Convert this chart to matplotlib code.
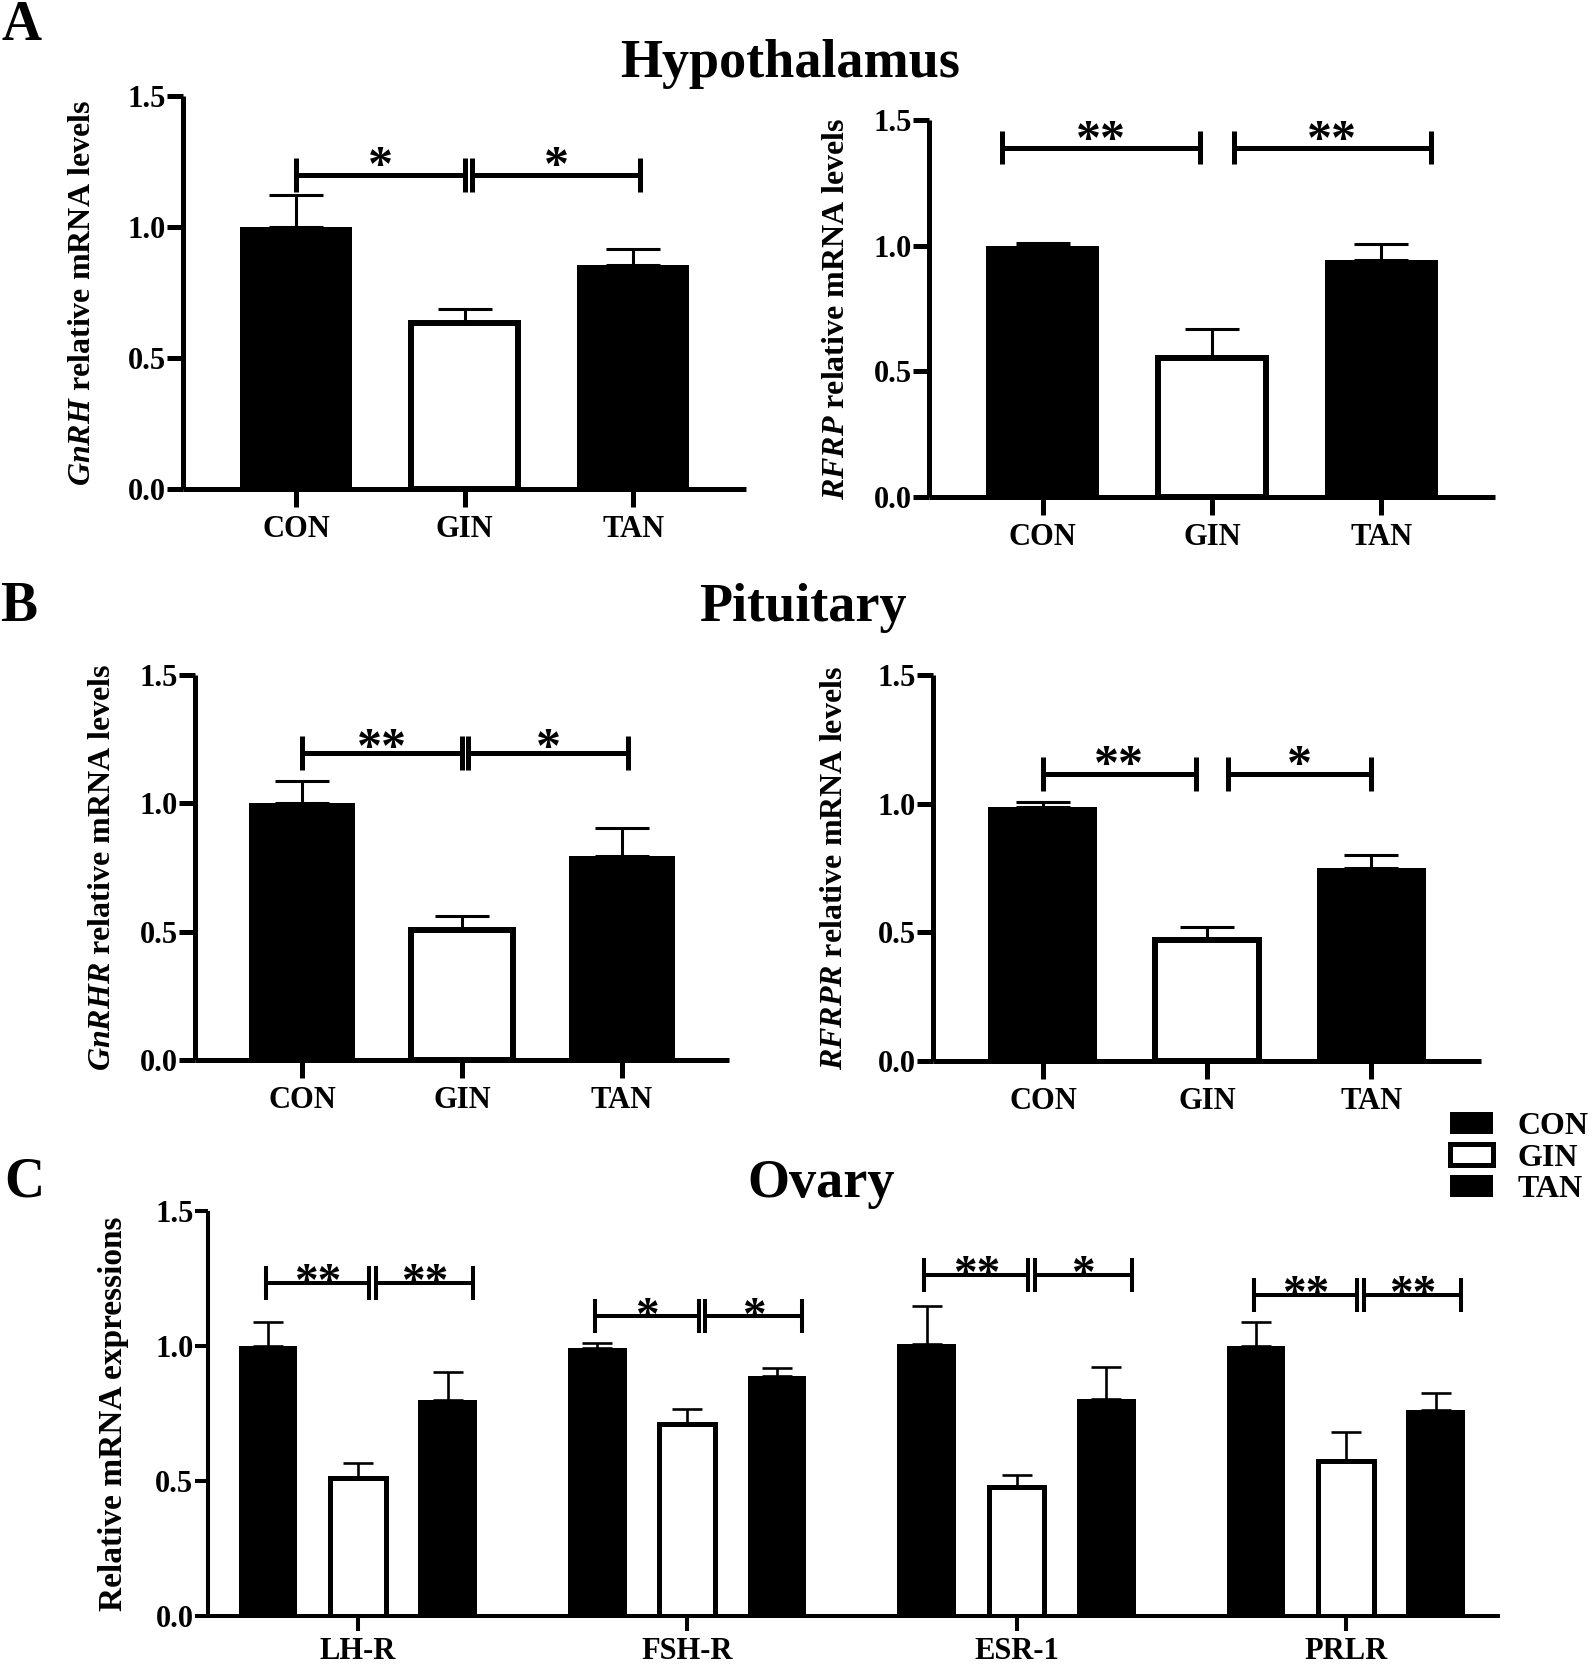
"""Relative mRNA levels in hypothalamus, pituitary and ovary."""

import numpy as np
import matplotlib

matplotlib.use("Agg")
import matplotlib.pyplot as plt

plt.rcParams.update(
    {
        "font.family": "Liberation Serif",
        "font.weight": "bold",
        "mathtext.fontset": "custom",
        "mathtext.rm": "Liberation Serif:bold",
        "mathtext.it": "Liberation Serif:italic:bold",
        "mathtext.bf": "Liberation Serif:bold",
        "axes.labelweight": "bold",
        "xtick.labelsize": 22,
        "ytick.labelsize": 22,
    }
)

groups = ["CON", "GIN", "TAN"]
bar_colors = ["black", "white", "black"]

# hypothalamus
gnrh_mean = [1.00, 0.634, 0.855]
gnrh_sem = [0.124, 0.053, 0.061]
gnrh_sig = ["*", "*"]
rfrp_mean = [1.00, 0.553, 0.943]
rfrp_sem = [0.010, 0.117, 0.064]
rfrp_sig = ["**", "**"]

# pituitary
gnrhr_mean = [1.00, 0.506, 0.795]
gnrhr_sem = [0.087, 0.055, 0.109]
gnrhr_sig = ["**", "*"]
rfrpr_mean = [0.987, 0.470, 0.750]
rfrpr_sem = [0.019, 0.050, 0.050]
rfrpr_sig = ["**", "*"]

# ovary
ovary_genes = ["LH-R", "FSH-R", "ESR-1", "PRLR"]
ovary_con_mean = [1.00, 0.993, 1.007, 1.00]
ovary_con_sem = [0.089, 0.018, 0.141, 0.089]
ovary_gin_mean = [0.511, 0.711, 0.478, 0.575]
ovary_gin_sem = [0.056, 0.056, 0.044, 0.106]
ovary_tan_mean = [0.800, 0.889, 0.804, 0.764]
ovary_tan_sem = [0.104, 0.029, 0.120, 0.063]
ovary_sig_left = ["**", "*", "**", "**"]
ovary_sig_right = ["**", "*", "*", "**"]
ovary_sig_height = [1.233, 1.110, 1.263, 1.189]

W, H = 1595, 1667
fig = plt.figure(figsize=(W / 100, H / 100), dpi=100)


def px_rect(left, bottom, width, height):
    """Pixel box -> figure fraction rect."""
    return [left / W, 1 - bottom / H, width / W, height / H]


def style_axes(ax, lw, xtick_len, ytick_len, xpad):
    """GraphPad like axes."""
    for side in ("top", "right"):
        ax.spines[side].set_visible(False)
    for side in ("left", "bottom"):
        ax.spines[side].set_linewidth(lw)
        ax.spines[side].set_capstyle("butt")
    ax.set_ylim(0, 1.5)
    ax.set_yticks([0, 0.5, 1.0, 1.5])
    ax.set_yticklabels(["0.0", "0.5", "1.0", "1.5"])
    ax.tick_params(axis="y", direction="out", length=ytick_len, width=lw, pad=1)
    ax.tick_params(axis="x", direction="out", length=xtick_len, width=lw, pad=xpad)
    for lab in ax.get_xticklabels() + ax.get_yticklabels():
        lab.set_fontweight("bold")


def bracket(ax, x0, x1, y, label, lw, star_dy, end_h=0.065, fs=36):
    ax.plot([x0, x1], [y, y], color="k", lw=lw, solid_capstyle="butt", zorder=4)
    for xe in (x0, x1):
        ax.plot([xe, xe], [y - end_h, y + end_h], color="k", lw=lw,
                solid_capstyle="butt", zorder=4)
    ax.annotate(label, xy=((x0 + x1) / 2, y), xytext=(0, star_dy),
                textcoords="offset points", ha="center", va="baseline",
                fontsize=fs, fontweight="bold", zorder=5)


def draw_bars(ax, x, means, color, width, edge_lw):
    """Black bars without outline, white bars with a thick black outline."""
    if color == "white":
        return ax.bar(x, means, width=width * 0.95, color="white",
                      edgecolor="k", linewidth=edge_lw, zorder=2)
    return ax.bar(x, means, width=width, color="black", linewidth=0, zorder=2)


def small_panel(rect, means, sems, ylabel, label_x, spans, sig, star_dy):
    ax = fig.add_axes(rect)
    x = np.arange(len(groups))
    ax.errorbar(x, means, yerr=[np.zeros(len(x)), sems], fmt="none",
                ecolor="k", elinewidth=2.2, capsize=19.5, capthick=2.2,
                zorder=1)
    for xi, m, c in zip(x, means, bar_colors):
        draw_bars(ax, [xi], [m], c, 0.665, 4.3)
    ax.set_xlim(-0.67, 2.67)
    ax.set_xticks(x)
    ax.set_xticklabels(groups)
    style_axes(ax, 3.6, 13, 11.5, 6)
    ax.set_ylabel(ylabel, fontsize=23, va="center")
    ax.yaxis.set_label_coords(label_x, 0.5)
    for (x0, x1, y), lab in zip(spans, sig):
        bracket(ax, x0, x1, y, lab, 3.6, star_dy)
    return ax


# A: hypothalamus
small_panel(px_rect(183, 489, 563, 393), gnrh_mean, gnrh_sem,
            r"$\mathit{GnRH}$ relative mRNA levels", -0.179,
            [(0.0, 1.0, 1.20), (1.045, 2.04, 1.20)], gnrh_sig, -4.0)
small_panel(px_rect(929, 497, 566, 377), rfrp_mean, rfrp_sem,
            r"$\mathit{RFRP}$ relative mRNA levels", -0.164,
            [(-0.24, 0.93, 1.39), (1.13, 2.29, 1.39)], rfrp_sig, -4.7)

# B: pituitary
small_panel(px_rect(195, 1060, 534, 385), gnrhr_mean, gnrhr_sem,
            r"$\mathit{GnRHR}$ relative mRNA levels", -0.174,
            [(0.0, 1.0, 1.196), (1.04, 2.04, 1.196)], gnrhr_sig, -6.8)
small_panel(px_rect(933, 1061, 548, 386), rfrpr_mean, rfrpr_sem,
            r"$\mathit{RFRPR}$ relative mRNA levels", -0.179,
            [(0.0, 0.93, 1.115), (1.13, 2.0, 1.115)], rfrpr_sig, -3.2)

# C: ovary
axc = fig.add_axes(px_rect(208, 1616, 1292, 405))
xg = np.arange(len(ovary_genes))
offsets = [-0.273, 0.0, 0.273]
series = [
    (ovary_con_mean, ovary_con_sem),
    (ovary_gin_mean, ovary_gin_sem),
    (ovary_tan_mean, ovary_tan_sem),
]
handles = []
for off, color, (m, s) in zip(offsets, bar_colors, series):
    axc.errorbar(xg + off, m, yerr=[np.zeros(len(xg)), s], fmt="none",
                 ecolor="k", elinewidth=1.9, capsize=10.8, capthick=1.9,
                 zorder=1)
    handles.append(draw_bars(axc, xg + off, m, color, 0.178, 3.6))
axc.set_xlim(-0.455, 3.468)
axc.set_xticks(xg)
axc.set_xticklabels(ovary_genes)
style_axes(axc, 2.9, 11, 9.5, 4)
axc.set_ylabel("Relative mRNA expressions", fontsize=24, va="center")
axc.yaxis.set_label_coords(-0.0728, 0.5)
for g, (yh, l1, l2) in enumerate(zip(ovary_sig_height, ovary_sig_left,
                                     ovary_sig_right)):
    bracket(axc, g - 0.28, g + 0.035, yh, l1, 2.9, -8.9, end_h=0.063, fs=34)
    bracket(axc, g + 0.055, g + 0.35, yh, l2, 2.9, -8.9, end_h=0.063, fs=34)

fig.legend(handles, groups, loc="upper left",
           bbox_to_anchor=(1450 / W, 1 - 1112 / H), frameon=False,
           fontsize=23, handlelength=1.34, handleheight=0.66,
           handletextpad=0.78, labelspacing=0.08, borderpad=0,
           borderaxespad=0)

# titles and panel letters
fig.text(790 / W, 1 - 77 / H, "Hypothalamus", ha="center", va="baseline",
         fontsize=39, fontweight="bold")
fig.text(803 / W, 1 - 621 / H, "Pituitary", ha="center", va="baseline",
         fontsize=39, fontweight="bold")
fig.text(821 / W, 1 - 1197 / H, "Ovary", ha="center", va="baseline",
         fontsize=39, fontweight="bold")
fig.text(2 / W, 1 - 40 / H, "A", ha="left", va="baseline", fontsize=40,
         fontweight="bold")
fig.text(0 / W, 1 - 621 / H, "B", ha="left", va="baseline", fontsize=40,
         fontweight="bold")
fig.text(4 / W, 1 - 1196 / H, "C", ha="left", va="baseline", fontsize=40,
         fontweight="bold")

fig.savefig("out.png", dpi=100)
